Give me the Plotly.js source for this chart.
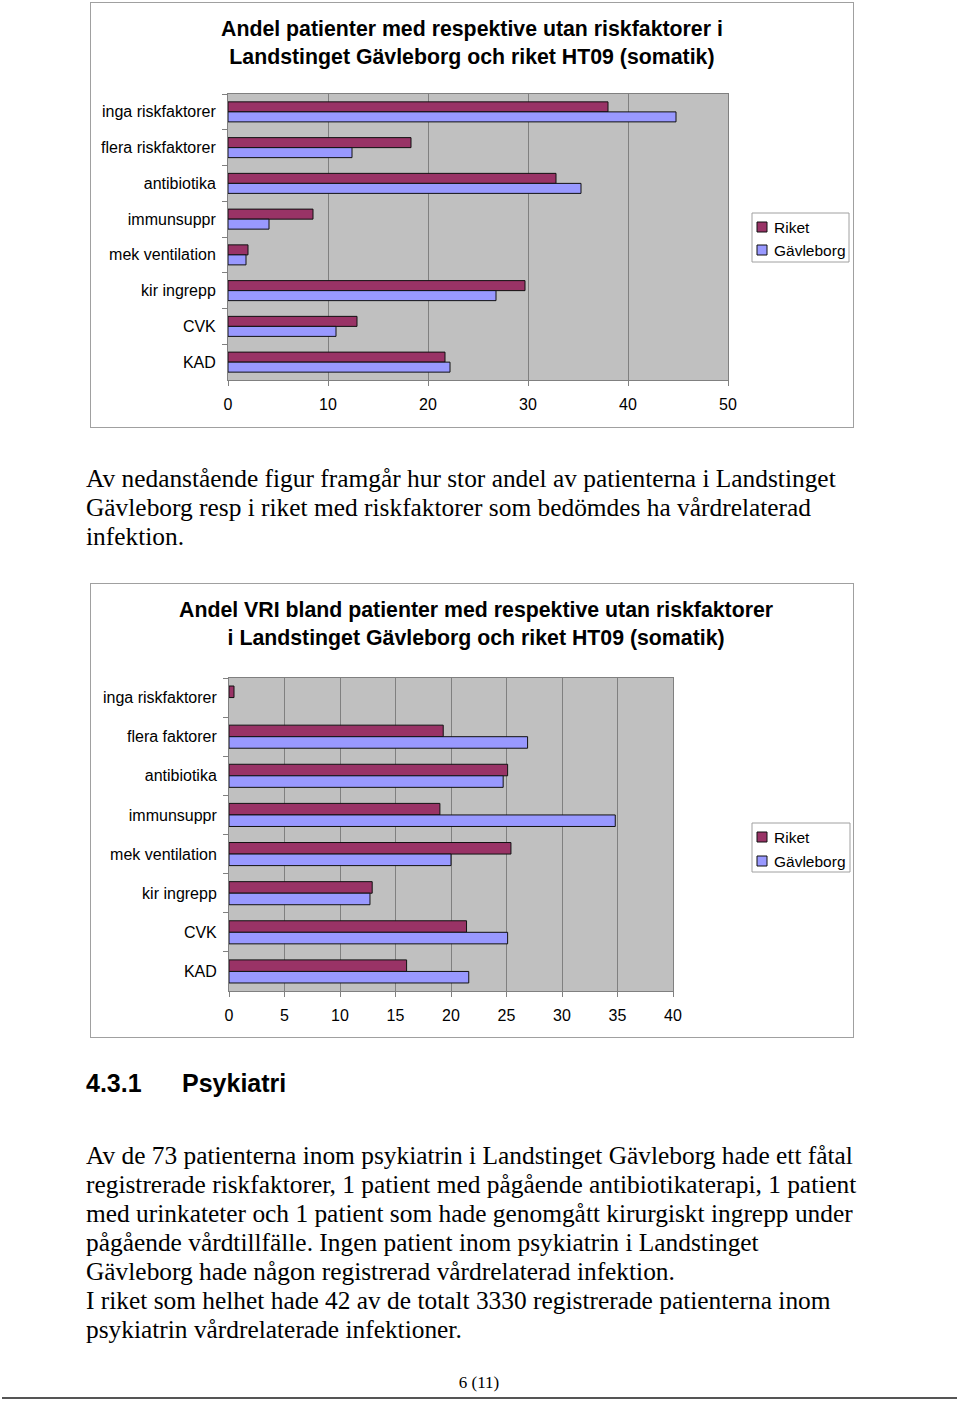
<!DOCTYPE html>
<html>
<head>
<meta charset="utf-8">
<script src="https://cdn.plot.ly/plotly-3.0.1.min.js"></script>
<style>
  html, body { margin:0; padding:0; background:#fff; }
  body { width:960px; height:1403px; position:relative; overflow:hidden; }
  .chart { position:absolute; border:1px solid #a0a0a0; }
  .txt { position:absolute; left:86px; font-family:"Liberation Serif","Times New Roman",serif; font-size:25.4px; line-height:29px; color:#000; white-space:nowrap; }
  .head { position:absolute; left:86px; top:1068px; font-family:"Liberation Sans",Arial,sans-serif; font-weight:bold; font-size:25px; line-height:30px; color:#000; }
  .pnum { position:absolute; left:0; width:958px; top:1373px; text-align:center; font-family:"Liberation Serif","Times New Roman",serif; font-size:17px; line-height:20px; }
  .rule { position:absolute; left:2px; width:955px; top:1397px; height:2px; background:#555; }
</style>
</head>
<body>
<div id="c1" class="chart" style="left:90px; top:2px; width:762px; height:424px;"></div>
<div class="txt" style="top:464px;">Av nedanstående figur framgår hur stor andel av patienterna i Landstinget<br>Gävleborg resp i riket med riskfaktorer som bedömdes ha vårdrelaterad<br>infektion.</div>
<div id="c2" class="chart" style="left:90px; top:583px; width:762px; height:453px;"></div>
<div class="head"><span>4.3.1</span><span style="position:absolute; left:96px; white-space:nowrap;">Psykiatri</span></div>
<div class="txt" style="top:1141px;">Av de 73 patienterna inom psykiatrin i Landstinget Gävleborg hade ett fåtal<br>registrerade riskfaktorer, 1 patient med pågående antibiotikaterapi, 1 patient<br>med urinkateter och 1 patient som hade genomgått kirurgiskt ingrepp under<br>pågående vårdtillfälle. Ingen patient inom psykiatrin i Landstinget<br>Gävleborg hade någon registrerad vårdrelaterad infektion.<br>I riket som helhet hade 42 av de totalt 3330 registrerade patienterna inom<br>psykiatrin vårdrelaterade infektioner.</div>
<div class="pnum">6 (11)</div>
<div class="rule"></div>

<script>
// ---- Chart 1 data ----
const title1 = "Andel patienter med respektive utan riskfaktorer i<br>Landstinget Gävleborg och riket HT09 (somatik)";
const categories1 = ["inga riskfaktorer", "flera riskfaktorer", "antibiotika", "immunsuppr", "mek ventilation", "kir ingrepp", "CVK", "KAD"];
const riket1 = [38.0, 18.3, 32.8, 8.5, 2.0, 29.7, 12.9, 21.7];
const gavleborg1 = [44.8, 12.4, 35.3, 4.1, 1.8, 26.8, 10.8, 22.2];
const ticks1 = [0, 10, 20, 30, 40, 50];

// ---- Chart 2 data ----
const title2 = "Andel VRI bland patienter med respektive utan riskfaktorer<br>i Landstinget Gävleborg och riket HT09 (somatik)";
const categories2 = ["inga riskfaktorer", "flera faktorer", "antibiotika", "immunsuppr", "mek ventilation", "kir ingrepp", "CVK", "KAD"];
const riket2 = [0.45, 19.3, 25.1, 19.0, 25.4, 12.9, 21.4, 16.0];
const gavleborg2 = [null, 26.9, 24.7, 34.8, 20.0, 12.7, 25.1, 21.6];
const ticks2 = [0, 5, 10, 15, 20, 25, 30, 35, 40];

const seriesNames = ["Riket", "Gävleborg"];
const colors = ["#993366", "#9999FF"];

const SANS = "Liberation Sans, Arial, sans-serif";

function makeChart(id, title, cats, riket, gav, ticks, opts) {
  // page-pixel -> paper-fraction helpers for this chart's plot area
  const px = x => (x - opts.plotLeft) / opts.plotW;
  const py = y => (opts.plotTop + opts.plotH - y) / opts.plotH;

  const traces = [riket, gav].map((vals, i) => ({
    type: "bar",
    orientation: "h",
    name: seriesNames[i],
    y: cats,
    x: vals,
    marker: { color: colors[i], line: { color: "#111", width: 1 } },
    hoverinfo: "skip"
  }));

  // legend (drawn as box + swatches + labels)
  const L = opts.legend;
  const shapes = [{
    type: "rect", xref: "paper", yref: "paper",
    x0: px(L.x0), x1: px(L.x1), y0: py(L.y0), y1: py(L.y1),
    line: { color: "#a0a0a0", width: 1 }, fillcolor: "#fff", layer: "above"
  }];
  const annotations = [{
    text: title, showarrow: false,
    xref: "paper", yref: "paper",
    x: px(opts.titleCx), y: py(opts.titleCy),
    xanchor: "center", yanchor: "middle", align: "center",
    font: { family: SANS, size: 21.3, color: "#000", weight: "bold" }
  }];
  seriesNames.forEach((nm, i) => {
    const cy = L.rowY[i];
    shapes.push({
      type: "rect", xref: "paper", yref: "paper",
      x0: px(L.sx), x1: px(L.sx + 10), y0: py(cy - 5), y1: py(cy + 5),
      line: { color: "#111", width: 1 }, fillcolor: colors[i], layer: "above"
    });
    annotations.push({
      text: nm, showarrow: false, xref: "paper", yref: "paper",
      x: px(L.tx), y: py(cy), xanchor: "left", yanchor: "middle",
      font: { family: SANS, size: 15.5, color: "#000" }
    });
  });

  const layout = {
    width: opts.w, height: opts.h,
    margin: Object.assign({ autoexpand: false }, opts.margin),
    paper_bgcolor: "#fff",
    plot_bgcolor: "#c0c0c0",
    barmode: "group",
    bargap: opts.bargap,
    bargroupgap: 0,
    showlegend: false,
    font: { family: SANS, size: 16, color: "#000" },
    xaxis: {
      range: [ticks[0], ticks[ticks.length - 1]],
      tickvals: ticks,
      ticktext: ticks.map(String),
      showgrid: true, gridcolor: "#808080", gridwidth: 1,
      zeroline: false,
      showline: true, linecolor: "#808080", linewidth: 1, mirror: true,
      ticks: "outside", ticklen: 5, tickcolor: "#808080",
      ticklabelstandoff: 5,
      tickfont: { family: SANS, size: 16, color: "#000" },
      fixedrange: true
    },
    yaxis: {
      type: "category",
      autorange: "reversed",
      showgrid: false,
      showline: true, linecolor: "#808080", linewidth: 1, mirror: true,
      ticks: "outside", ticklen: 5, tickcolor: "#808080",
      tickson: "boundaries",
      ticklabelstandoff: 8,
      tickfont: { family: SANS, size: 16, color: "#000" },
      fixedrange: true
    },
    shapes: shapes,
    annotations: annotations
  };
  Plotly.newPlot(id, traces, layout, { staticPlot: true, displayModeBar: false });
}

makeChart("c1", title1, categories1, riket1, gavleborg1, ticks1, {
  w: 762, h: 424,
  margin: { l: 137, r: 125, t: 91, b: 47 },
  plotLeft: 228, plotW: 500, plotTop: 94, plotH: 286,
  bargap: 0.44,
  titleCx: 472, titleCy: 43.5,
  legend: { x0: 752, x1: 849, y0: 213, y1: 262, sx: 757, tx: 772, rowY: [227, 250] }
});

makeChart("c2", title2, categories2, riket2, gavleborg2, ticks2, {
  w: 762, h: 453,
  margin: { l: 138, r: 180, t: 94, b: 46 },
  plotLeft: 229, plotW: 444, plotTop: 678, plotH: 313,
  bargap: 0.41,
  titleCx: 475.5, titleCy: 623.5,
  legend: { x0: 752, x1: 850, y0: 823, y1: 872, sx: 757, tx: 772, rowY: [837, 861] }
});
</script>
</body>
</html>
